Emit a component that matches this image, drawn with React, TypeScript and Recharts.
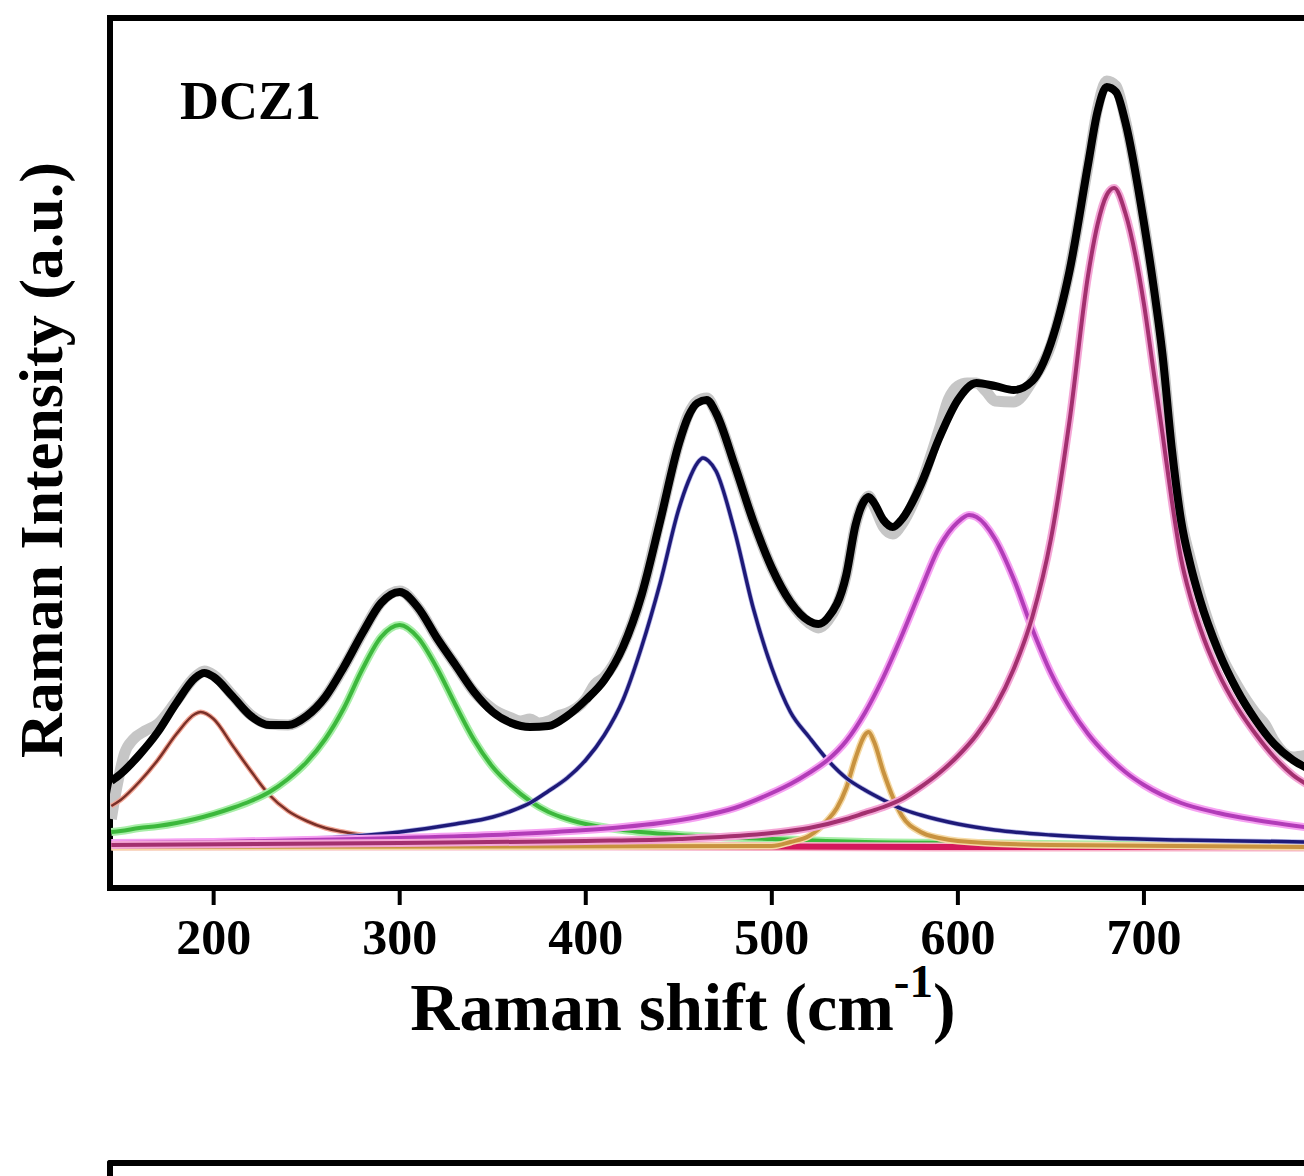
import React from 'react';
import { LineChart, Line, XAxis, YAxis, ReferenceLine } from 'recharts';

interface Pt {
  x: number;
  y: number;
}

// Raman shift (cm-1) / intensity (a.u.) pairs
const rawData: Pt[] = [
  [145, 30], [148, 62], [152, 95], [157, 110], [163, 118], [170, 125], [180, 148], [190, 172],
  [195, 178], [200, 174], [210, 154], [220, 134], [230, 125], [240, 124], [250, 133], [260, 152],
  [270, 182], [280, 216], [290, 247], [300, 258], [310, 241], [320, 211], [330, 184], [340, 157],
  [350, 140], [360, 131], [365, 128], [370, 130], [375, 126], [380, 128], [385, 133], [390, 136],
  [400, 150], [405, 165], [410, 172], [420, 203], [430, 254], [440, 330], [450, 406], [455, 434],
  [460, 448], [465, 451], [470, 436], [480, 384], [490, 328], [500, 281], [510, 247], [520, 226],
  [525, 221], [530, 228], [540, 274], [545, 324], [550, 349], [552, 353], [555, 343], [560, 322],
  [565, 315], [570, 325], [580, 364], [590, 420], [595, 450], [600, 463], [605, 466], [610, 466],
  [615, 458], [620, 448], [630, 447], [640, 468], [650, 504], [660, 579], [670, 684], [675, 740],
  [680, 768], [685, 763], [690, 729], [700, 626], [705, 566], [710, 494], [715, 402], [720, 330],
  [725, 290], [730, 255], [740, 200], [750, 164], [760, 136], [765, 125], [770, 108], [780, 92],
  [790, 95],
].map(([x, y]) => ({ x, y }));

const fitData: Pt[] = [
  [145, 68], [150, 75], [160, 94], [170, 117], [180, 146], [190, 171], [195, 176], [200, 172],
  [210, 153], [220, 133], [230, 124], [240, 124], [250, 133], [260, 152], [270, 182], [280, 216],
  [290, 246], [300, 257], [310, 241], [320, 211], [330, 184], [340, 157], [350, 137], [360, 126],
  [370, 122], [380, 123], [390, 133], [400, 149], [410, 169], [420, 202], [430, 254], [440, 328],
  [450, 405], [455, 432], [460, 446], [465, 449], [470, 436], [480, 384], [490, 328], [500, 281],
  [510, 247], [520, 228], [525, 225], [530, 231], [540, 274], [545, 324], [550, 349], [552, 352],
  [555, 346], [560, 329], [565, 322], [570, 330], [580, 364], [590, 411], [600, 449], [610, 466],
  [620, 463], [630, 459], [640, 468], [650, 506], [660, 578], [670, 685], [675, 737], [680, 762],
  [685, 757], [690, 727], [700, 626], [705, 565], [710, 494], [715, 400], [720, 328], [725, 284],
  [730, 250], [740, 198], [750, 159], [760, 129], [770, 105], [780, 89], [790, 79],
].map(([x, y]) => ({ x, y }));

const peak1: Pt[] = [
  [145, 43], [150, 49], [160, 67], [170, 89], [180, 115], [190, 135], [193, 137], [200, 130],
  [210, 104], [220, 78], [230, 54], [240, 38], [250, 28], [260, 21], [270, 17], [280, 14],
  [300, 10], [350, 7], [400, 5], [500, 3], [600, 2], [790, 1],
].map(([x, y]) => ({ x, y }));

const peak2: Pt[] = [
  [145, 17], [150, 18], [160, 21], [170, 23], [180, 26], [190, 30], [200, 35], [210, 41],
  [220, 48], [230, 57], [240, 70], [250, 87], [260, 110], [270, 141], [280, 180], [290, 212],
  [300, 224], [310, 211], [320, 181], [330, 144], [340, 109], [350, 82], [360, 63], [370, 48],
  [380, 37], [390, 30], [400, 25], [420, 19], [450, 14], [500, 10], [550, 7], [600, 6],
  [700, 4], [790, 3],
].map(([x, y]) => ({ x, y }));

const peak3: Pt[] = [
  [145, 7], [200, 8], [250, 10], [300, 17], [330, 25], [350, 32], [360, 38], [370, 46],
  [380, 58], [390, 71], [400, 89], [410, 114], [420, 149], [430, 202], [440, 266], [450, 340],
  [455, 367], [460, 386], [463, 391], [466, 388], [470, 378], [480, 318], [490, 241], [500, 181],
  [510, 137], [520, 112], [530, 89], [540, 71], [550, 59], [560, 49], [570, 40], [580, 34],
  [600, 25], [620, 19], [650, 14], [680, 11], [720, 9], [790, 7],
].map(([x, y]) => ({ x, y }));

const peak4: Pt[] = [
  [145, 2], [500, 3], [510, 7], [520, 13], [530, 29], [535, 41], [540, 61], [545, 91],
  [550, 114], [552, 117], [555, 107], [560, 77], [565, 52], [570, 33], [580, 17], [590, 11],
  [600, 8], [650, 4], [790, 2],
].map(([x, y]) => ({ x, y }));

const peak5: Pt[] = [
  [145, 6], [200, 7], [250, 9], [300, 11], [350, 14], [400, 19], [420, 22], [440, 26],
  [460, 32], [480, 41], [500, 56], [510, 65], [520, 76], [530, 89], [540, 108], [550, 136],
  [560, 172], [570, 214], [580, 259], [590, 302], [600, 327], [606, 334], [610, 332], [620, 310],
  [630, 270], [640, 220], [650, 176], [660, 142], [670, 115], [680, 94], [690, 77], [700, 64],
  [720, 46], [740, 36], [760, 29], [790, 21],
].map(([x, y]) => ({ x, y }));

const peak6: Pt[] = [
  [145, 4], [300, 6], [400, 8], [450, 10], [500, 16], [520, 21], [540, 30], [550, 36],
  [560, 42], [570, 50], [580, 62], [590, 76], [600, 93], [610, 114], [620, 142], [630, 180],
  [640, 232], [650, 310], [660, 428], [670, 574], [675, 624], [680, 654], [684, 661], [690, 636],
  [700, 545], [705, 480], [710, 415], [715, 348], [720, 290], [725, 252], [730, 222], [740, 176],
  [750, 142], [760, 115], [770, 92], [780, 74], [790, 62],
].map(([x, y]) => ({ x, y }));

const baseData: Pt[] = [
  [145, 3], [400, 3], [600, 2], [790, 2],
].map(([x, y]) => ({ x, y }));

const xTicks = [200, 300, 400, 500, 600, 700];
const xMin = 144.3;
const xMax = 800;
const yMin = -39;
const yMax = 831;

const serif = '"Liberation Serif", "Times New Roman", serif';

const components = [
  { key: 'p1', data: peak1, color: '#7a3028', halo: '#f2a898', width: 2.5, haloWidth: 5 },
  { key: 'p2', data: peak2, color: '#3cb83c', halo: '#a8eea8', width: 4, haloWidth: 8 },
  { key: 'base', data: baseData, color: '#d4185c', halo: '#f7b0c8', width: 6, haloWidth: 9 },
  { key: 'p4', data: peak4, color: '#c8923f', halo: '#f5d9a4', width: 4, haloWidth: 7 },
  { key: 'p3', data: peak3, color: '#1e1a78', halo: '#b8b8e8', width: 3.5, haloWidth: 5 },
  { key: 'p5', data: peak5, color: '#b23cb8', halo: '#f6a2f2', width: 4, haloWidth: 8 },
  { key: 'p6', data: peak6, color: '#a3306f', halo: '#f4a6d6', width: 4, haloWidth: 8 },
];

const XTitle = () => (
  <text x={683} y={1030} textAnchor="middle" fontFamily={serif} fontWeight="bold" fontSize={68} fill="#000">
    Raman shift (cm
    <tspan dy={-33} fontSize={47}>-1</tspan>
    <tspan dy={33} fontSize={68}>)</tspan>
  </text>
);

export default function App() {
  return (
    <div style={{ position: 'absolute', left: 0, top: 0, width: 1304, height: 1176, overflow: 'hidden', background: '#fff' }}>
      <LineChart width={1330} height={1060} margin={{ top: 18, right: 0, left: 110, bottom: 60 }}>
        <XAxis
          type="number"
          dataKey="x"
          domain={[xMin, xMax]}
          ticks={xTicks}
          interval={0}
          height={112}
          axisLine={{ stroke: '#000', strokeWidth: 6 }}
          tickLine={{ stroke: '#000', strokeWidth: 4 }}
          tickSize={17}
          tickMargin={13}
          tick={{ fill: '#000', fontSize: 50, fontWeight: 'bold', fontFamily: serif }}
          allowDataOverflow
        />
        <YAxis type="number" dataKey="y" domain={[yMin, yMax]} hide allowDataOverflow />
        <ReferenceLine y={yMax} stroke="#000" strokeWidth={6} strokeLinecap="square" />
        <ReferenceLine x={xMin} stroke="#000" strokeWidth={6} strokeLinecap="square" />
        <Line
          data={rawData}
          dataKey="y"
          type="monotone"
          stroke="#c6c6c6"
          strokeWidth={11}
          dot={false}
          isAnimationActive={false}
        />
        {components.flatMap((c) => [
          <Line
            key={`${c.key}-halo`}
            data={c.data}
            dataKey="y"
            type="monotone"
            stroke={c.halo}
            strokeWidth={c.haloWidth}
            dot={false}
            isAnimationActive={false}
          />,
          <Line
            key={c.key}
            data={c.data}
            dataKey="y"
            type="monotone"
            stroke={c.color}
            strokeWidth={c.width}
            dot={false}
            isAnimationActive={false}
          />,
        ])}
        <Line
          data={fitData}
          dataKey="y"
          type="monotone"
          stroke="#000"
          strokeWidth={8}
          dot={false}
          isAnimationActive={false}
        />
      </LineChart>
      <svg width={1304} height={1176} style={{ position: 'absolute', left: 0, top: 0, pointerEvents: 'none' }}>
        <text x={180} y={119} fontFamily={serif} fontWeight="bold" fontSize={54} fill="#000">
          DCZ1
        </text>
        <text
          x={62}
          y={460}
          transform="rotate(-90, 62, 460)"
          textAnchor="middle"
          fontFamily={serif}
          fontWeight="bold"
          fontSize={62}
          fill="#000"
        >
          Raman Intensity (a.u.)
        </text>
        <XTitle />
      </svg>
      <div
        style={{
          position: 'absolute',
          left: 107,
          top: 1160,
          width: 1300,
          height: 40,
          borderTop: '6px solid #000',
          borderLeft: '6px solid #000',
          borderTopLeftRadius: 3,
        }}
      />
    </div>
  );
}
